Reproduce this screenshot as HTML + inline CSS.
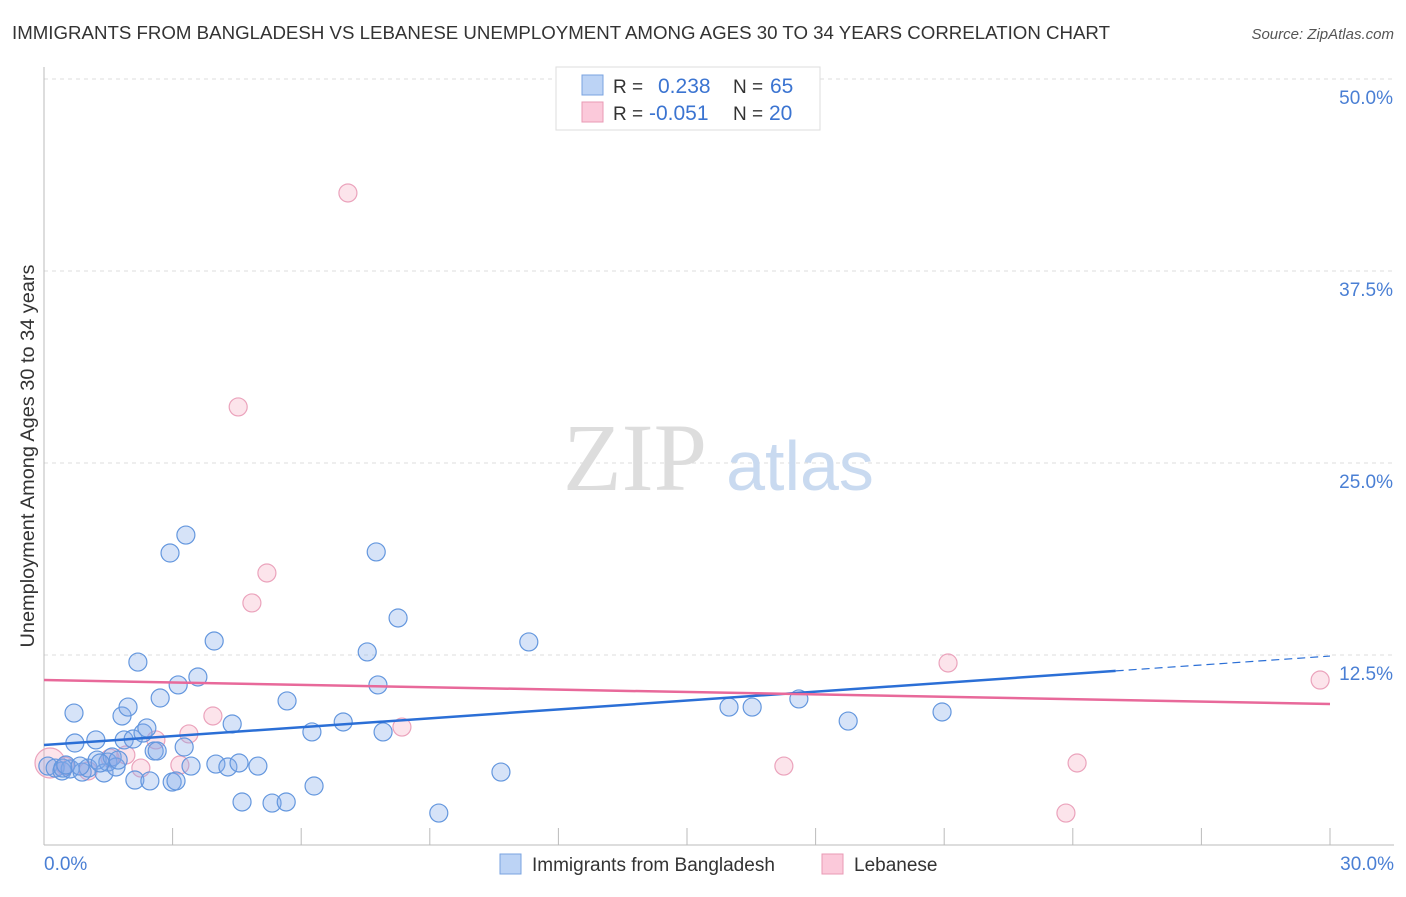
<!DOCTYPE html>
<html><head><meta charset="utf-8"><style>
body{margin:0;background:#fff;font-family:"Liberation Sans",sans-serif;}
svg text{font-family:"Liberation Sans",sans-serif;}
</style></head><body>
<svg id="chart" width="1406" height="892" xmlns="http://www.w3.org/2000/svg">
<text x="12" y="39" font-size="18" fill="#333" textLength="1098" lengthAdjust="spacingAndGlyphs">IMMIGRANTS FROM BANGLADESH VS LEBANESE UNEMPLOYMENT AMONG AGES 30 TO 34 YEARS CORRELATION CHART</text>
<text x="1394" y="39" font-size="15" fill="#555" font-style="italic" text-anchor="end">Source: ZipAtlas.com</text>
<text x="34" y="456" font-size="19" fill="#333" text-anchor="middle" textLength="383" lengthAdjust="spacingAndGlyphs" transform="rotate(-90 34 456)">Unemployment Among Ages 30 to 34 years</text>
<g id="grid"></g>
<g><text x="635" y="490" font-size="96" fill="#ddd" text-anchor="middle" style="font-family:'Liberation Serif',serif">ZIP</text><text x="800" y="490" font-size="70" fill="#c9daf0" text-anchor="middle">atlas</text></g>
<line x1="44" y1="67" x2="44" y2="845" stroke="#bbb"/>
<line x1="44" y1="845" x2="1394" y2="845" stroke="#bbb"/>
<g id="ticks"></g>
<g id="marks"></g>
<g id="trends"></g>
<text x="44" y="870" font-size="19" fill="#4a7fd4">0.0%</text>
<text x="1394" y="870" font-size="19" fill="#4a7fd4" text-anchor="end">30.0%</text>
<g>
<rect x="556" y="67" width="264" height="63" fill="#fff" stroke="#ddd"/>
<rect x="582" y="75" width="21" height="20" fill="#bcd3f5" stroke="#7aa3e0"/>
<rect x="582" y="102" width="21" height="20" fill="#fbc9da" stroke="#e89ab4"/>
<text x="613" y="93" font-size="19" fill="#333">R =</text><text x="658" y="93" font-size="21" fill="#3b74d1">0.238</text>
<text x="733" y="93" font-size="19" fill="#333">N =</text><text x="770" y="93" font-size="21" fill="#3b74d1">65</text>
<text x="613" y="120" font-size="19" fill="#333">R =</text><text x="649" y="120" font-size="21" fill="#3b74d1">-0.051</text>
<text x="733" y="120" font-size="19" fill="#333">N =</text><text x="769" y="120" font-size="21" fill="#3b74d1">20</text>
</g>
<g>
<rect x="500" y="854" width="21" height="20" fill="#bcd3f5" stroke="#7aa3e0"/>
<text x="532" y="871" font-size="19" fill="#333">Immigrants from Bangladesh</text>
<rect x="822" y="854" width="21" height="20" fill="#fbc9da" stroke="#e89ab4"/>
<text x="854" y="871" font-size="19" fill="#333">Lebanese</text>
</g>
</svg>
<script>
const yTicks=[12.5,25,37.5,50];
const yTickLabels=["12.5%","25.0%","37.5%","50.0%"];
const xTicks=[3,6,9,12,15,18,21,24,27,30];
const blueX=[0.09,0.26,0.42,0.61,0.72,0.70,0.89,1.03,1.21,1.24,1.40,1.49,1.59,1.68,1.82,1.87,1.96,2.08,2.12,2.19,2.31,2.40,2.47,2.57,2.64,2.71,2.94,2.99,3.08,3.13,3.27,3.31,3.43,3.59,3.97,4.01,4.29,4.39,4.55,4.62,4.99,5.32,5.65,5.67,6.25,6.30,6.98,7.54,7.75,7.79,7.91,8.26,9.21,10.66,11.31,15.98,16.52,17.61,18.76,20.95,0.44,0.51,0.84,1.31,1.73];
const blueY=[5.27,5.14,4.95,5.08,6.77,8.72,4.88,5.14,6.97,5.66,4.82,5.53,5.86,5.21,8.53,6.97,9.11,7.03,4.36,12.04,7.42,7.75,4.30,6.25,6.25,9.70,19.14,4.23,4.30,10.55,6.51,20.31,5.27,11.07,13.41,5.40,5.21,8.01,5.47,2.93,5.27,2.86,2.93,9.51,7.49,3.97,8.14,12.70,19.21,10.55,7.49,14.91,2.21,4.88,13.35,9.11,9.11,9.64,8.20,8.79,5.14,5.34,5.27,5.47,5.66];
const pinkX=[0.14,1.03,1.91,2.26,2.61,3.17,3.38,3.94,4.53,4.85,5.20,7.09,8.35,17.26,21.09,23.84,24.10,29.77,0.49,1.54];
const pinkY=[5.47,4.95,5.99,5.14,6.97,5.34,7.36,8.53,28.65,15.89,17.84,42.58,7.81,5.27,11.98,2.21,5.47,10.87,5.27,5.79];
const blueTrend=[6.64,12.43];
const pinkTrend=[10.87,9.31];
const blueSolidEnd=25.0;
const NS="http://www.w3.org/2000/svg";
const sx=v=>44+v*(1286/30);
const sy=v=>847-v*(768/50);
function mk(tag,attrs,parent){const e=document.createElementNS(NS,tag);for(const k in attrs)e.setAttribute(k,attrs[k]);parent.appendChild(e);return e;}
const grid=document.getElementById('grid');
yTicks.forEach((t,i)=>{
 const l=mk('line',{x1:44,x2:1394,y1:sy(t),y2:sy(t),stroke:'#ddd','stroke-dasharray':'4,4'},grid);
 
 
 const tx=mk('text',{x:1393,y:sy(t)+25,'font-size':19,fill:'#4a7fd4','text-anchor':'end'},grid);
 tx.textContent=yTickLabels[i];
 
 
});
const ticks=document.getElementById('ticks');
xTicks.forEach(t=>{
 const l=mk('line',{x1:sx(t),x2:sx(t),y1:828,y2:845,stroke:'#bbb'},ticks);
 
 
});
const marks=document.getElementById('marks');
pinkX.forEach((x,i)=>{
 const c=mk('circle',{cx:sx(x),cy:sy(pinkY[i]),r:i===0?15:9,fill:'rgba(245,165,190,0.3)',stroke:'#eba3bc','stroke-width':1.2},marks);
 
 
});
blueX.forEach((x,i)=>{
 const c=mk('circle',{cx:sx(x),cy:sy(blueY[i]),r:9,fill:'rgba(130,170,235,0.33)',stroke:'#6497de','stroke-width':1.2},marks);
 
 
});
const tr=document.getElementById('trends');
const bAt=x=>blueTrend[0]+(blueTrend[1]-blueTrend[0])*x/30;
let l1=mk('line',{x1:sx(0),y1:sy(bAt(0)),x2:sx(blueSolidEnd),y2:sy(bAt(blueSolidEnd)),stroke:'#2b6fd6','stroke-width':2.5},tr);


let l2=mk('line',{x1:sx(blueSolidEnd),y1:sy(bAt(blueSolidEnd)),x2:sx(30),y2:sy(bAt(30)),stroke:'#2b6fd6','stroke-width':1.2,'stroke-dasharray':'8,5'},tr);


let l3=mk('line',{x1:sx(0),y1:sy(pinkTrend[0]),x2:sx(30),y2:sy(pinkTrend[1]),stroke:'#e8699a','stroke-width':2.5},tr);


</script>
</body></html>
